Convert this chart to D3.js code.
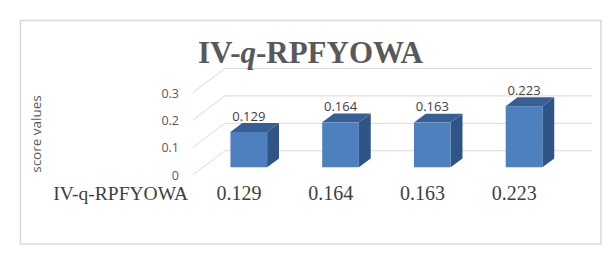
<!doctype html>
<html>
<head>
<meta charset="utf-8">
<title>IV-q-RPFYOWA</title>
<script src="https://d3js.org/d3.v7.min.js"></script>
<style>
  body { margin: 0; background: #fff; }
  svg { display: block; }
</style>
</head>
<body>
<script>
// data
var categories = ["C1", "C2", "C3", "C4"];
var seriesName = "IV-q-RPFYOWA";
var values = [0.129, 0.164, 0.163, 0.223];
var yTicks = [0, 0.1, 0.2, 0.3];

var width = 616, height = 266;

var svg = d3.select("body").append("svg")
    .attr("width", width)
    .attr("height", height);

svg.append("rect")
    .attr("width", width).attr("height", height)
    .attr("fill", "#fff");

// chart frame
svg.append("rect")
    .attr("x", 20.5).attr("y", 20.5)
    .attr("width", 580.5).attr("height", 223.5)
    .attr("fill", "none")
    .attr("stroke", "#d9d9d9")
    .attr("stroke-width", 1.5);

// back wall scales
var x = d3.scaleBand()
    .domain(categories)
    .range([225, 592]);
var y = d3.scaleLinear()
    .domain([0, 0.3])
    .range([150.7, 68.5]);

// depth vector from back wall to front edge of the floor
var depth = {dx: -32, dy: 24};
var fFront = 0.69, fBack = 0.32;
var barW = x.bandwidth() * 0.4;

// gridlines on back wall + diagonal on side wall
var grid = svg.append("g").attr("stroke", "#d9d9d9").attr("stroke-width", 1);
grid.selectAll(".back").data(yTicks).enter().append("line")
    .attr("x1", x.range()[0]).attr("x2", x.range()[1])
    .attr("y1", function(d) { return y(d); })
    .attr("y2", function(d) { return y(d); });
grid.selectAll(".side").data(yTicks).enter().append("line")
    .attr("x1", x.range()[0] + depth.dx)
    .attr("y1", function(d) { return y(d) + depth.dy; })
    .attr("x2", x.range()[0])
    .attr("y2", function(d) { return y(d); });

// y tick labels
svg.append("g").selectAll("text").data(yTicks).enter().append("text")
    .attr("x", x.range()[0] + depth.dx - 14)
    .attr("y", function(d) { return y(d) + depth.dy + 1; })
    .attr("dy", "0.33em")
    .attr("text-anchor", "end")
    .attr("font-family", "Open Sans, sans-serif")
    .attr("font-size", 12.5)
    .attr("fill", "#595959")
    .text(function(d) { return d3.format("")(d); });

// y axis title
svg.append("text")
    .attr("transform", "translate(41,134) rotate(-90)")
    .attr("text-anchor", "middle")
    .attr("font-family", "Open Sans, sans-serif")
    .attr("font-size", 13.5)
    .attr("fill", "#595959")
    .text("score values");

// bars
var bars = svg.append("g").selectAll("g").data(values).enter().append("g");

function geom(v, i) {
  var xc = x(categories[i]) + x.bandwidth() / 2;
  var x0 = xc - barW / 2 + depth.dx * fFront;
  var x1 = x0 + barW;
  var yT = y(v) + depth.dy * fFront;
  var yB = y(0) + depth.dy * fFront;
  var ox = depth.dx * (fBack - fFront), oy = depth.dy * (fBack - fFront);
  return {x0: x0, x1: x1, yT: yT, yB: yB, ox: ox, oy: oy, xc: xc};
}
function pts(a) { return a.map(function(p) { return p.join(","); }).join(" "); }

bars.append("polygon")
    .attr("fill", "#2f5486")
    .attr("points", function(d, i) {
      var g = geom(d, i);
      return pts([[g.x1, g.yT], [g.x1 + g.ox, g.yT + g.oy], [g.x1 + g.ox, g.yB + g.oy], [g.x1, g.yB]]);
    });
bars.append("polygon")
    .attr("fill", "#385f93")
    .attr("points", function(d, i) {
      var g = geom(d, i);
      return pts([[g.x0, g.yT], [g.x1, g.yT], [g.x1 + g.ox, g.yT + g.oy], [g.x0 + g.ox, g.yT + g.oy]]);
    });
bars.append("rect")
    .attr("fill", "#4e7fbe")
    .attr("x", function(d, i) { return geom(d, i).x0; })
    .attr("y", function(d, i) { return geom(d, i).yT; })
    .attr("width", barW)
    .attr("height", function(d, i) { var g = geom(d, i); return g.yB - g.yT; });

// data labels above bars
bars.append("text")
    .attr("x", function(d, i) { var g = geom(d, i); return g.x0 + barW / 2; })
    .attr("y", function(d, i) { var g = geom(d, i); return g.yT + g.oy - 2.5; })
    .attr("text-anchor", "middle")
    .attr("font-family", "Open Sans, sans-serif")
    .attr("font-size", 13)
    .attr("fill", "#404040")
    .text(function(d) { return d3.format(".3f")(d); });

// data table row under the floor
var rowY = 199.5;
svg.append("text")
    .attr("x", 188)
    .attr("y", rowY)
    .attr("text-anchor", "end")
    .attr("font-family", "Liberation Serif, Times New Roman, serif")
    .attr("font-size", 19.5)
    .attr("fill", "#404040")
    .text(seriesName);
svg.append("g").selectAll("text").data(values).enter().append("text")
    .attr("x", function(d, i) { return x(categories[i]) + x.bandwidth() / 2 + depth.dx; })
    .attr("y", rowY)
    .attr("text-anchor", "middle")
    .attr("font-family", "Liberation Serif, Times New Roman, serif")
    .attr("font-size", 20)
    .attr("fill", "#404040")
    .text(function(d) { return d3.format(".3f")(d); });

// title
var title = svg.append("text")
    .attr("x", 310.5)
    .attr("y", 62.7)
    .attr("text-anchor", "middle")
    .attr("font-family", "Liberation Serif, Times New Roman, serif")
    .attr("font-size", 31)
    .attr("font-weight", "bold")
    .attr("fill", "#595959");
title.append("tspan").text("IV-");
title.append("tspan").attr("font-style", "italic").text("q");
title.append("tspan").text("-RPFYOWA");
</script>
</body>
</html>
